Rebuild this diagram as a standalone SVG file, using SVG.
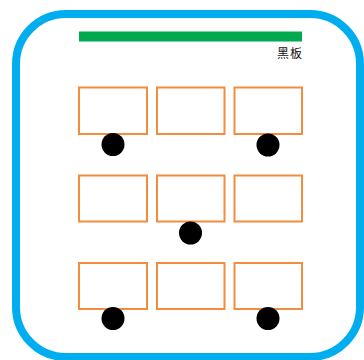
<svg xmlns="http://www.w3.org/2000/svg" width="364" height="360" viewBox="0 0 364 360">
<style>
.desk{fill:#fff;stroke:#f28c3f;stroke-width:2}
.seat{fill:#000}
.lbl{font-family:"Noto Sans CJK SC","Noto Sans CJK JP",sans-serif;font-size:12px;fill:#111;text-anchor:end;letter-spacing:1px}
</style>
<rect width="364" height="360" fill="#fff"/>
<g id="room"><rect x="16" y="14" width="344" height="343" rx="50" ry="50" fill="#fff" stroke="#00aeef" stroke-width="8"/></g>
<g id="blackboard"><rect x="79" y="31.5" width="223" height="10" fill="#00a94f"/><text class="lbl" x="303" y="57.5">黑板</text></g>
<g id="desks">
<rect class="desk" x="79" y="87.5" width="68" height="46.5"/>
<rect class="desk" x="157" y="87.5" width="67.5" height="46.5"/>
<rect class="desk" x="234.5" y="87.5" width="67.5" height="46.5"/>
<rect class="desk" x="79" y="175.5" width="68" height="46"/>
<rect class="desk" x="157" y="175.5" width="67.5" height="46"/>
<rect class="desk" x="234.5" y="175.5" width="67.5" height="46"/>
<rect class="desk" x="79" y="263" width="68" height="46"/>
<rect class="desk" x="157" y="263" width="67.5" height="46"/>
<rect class="desk" x="234.5" y="263" width="67.5" height="46"/>
</g>
<g id="seats">
<circle class="seat" cx="113" cy="144.5" r="11.5"/>
<circle class="seat" cx="268" cy="145" r="11.5"/>
<circle class="seat" cx="190.5" cy="233" r="11.5"/>
<circle class="seat" cx="113" cy="318.5" r="11.5"/>
<circle class="seat" cx="268" cy="318.5" r="11.5"/>
</g>
</svg>
